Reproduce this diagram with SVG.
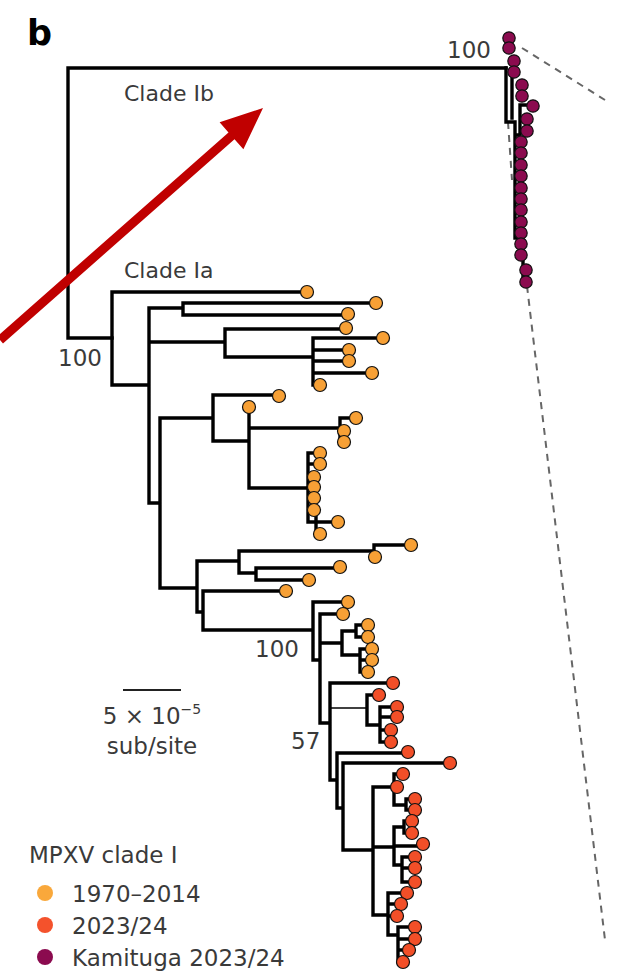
<svg xmlns="http://www.w3.org/2000/svg" width="623" height="975" viewBox="0 0 623 975">
<style>
.t{font-family:"DejaVu Sans","Liberation Sans",Arial,sans-serif;fill:#3a3a3a}
.br{fill:none;stroke:#000;stroke-width:3.4;stroke-linecap:square}
.thin{fill:none;stroke:#000;stroke-width:1.6}
.o{fill:#F7A035;stroke:#111;stroke-width:1.2}
.r{fill:#F24F28;stroke:#111;stroke-width:1.2}
.m{fill:#8B0B4F;stroke:#111;stroke-width:1.2}
.dash{fill:none;stroke:#666;stroke-width:2;stroke-dasharray:7 6}
</style>
<rect width="623" height="975" fill="#fff"/>
<text x="27" y="45" font-family="DejaVu Sans, Liberation Sans, sans-serif" font-size="35" font-weight="bold" fill="#000">b</text>
<g id="connectors">
<path class="dash" d="M522,48 L605,100"/>
<path class="dash" d="M527,286 L605,940"/>
<path class="dash" d="M508,122 L512,180"/>
<path class="br" d="M506,68 H68 V338 H112"/>
<path class="br" d="M307,292 H112 V385 H149 M149,308 V503 M149,308 H183 M183,303 V315 M183,303 H376 M183,315 H348 M149,342 H225 M225,329 V357 M225,329 H346 M225,357 H313 M313,338 V385 M313,338 H383 M313,350 H349 M313,361 H349 M313,373 H372 M313,385 H320 M149,503 H160 M160,418 V588 M160,418 H213 M213,395 V441 M213,395 H279 M213,441 H249 M249,407 V488 M249,428 H340 M340,418 V442 M340,418 H356 M340,431 H344 M340,442 H344 M249,488 H308 M308,453 V522 M308,453 H320 M308,464 H320 M308,522 H316 M316,517 V534 M316,522 H338 M316,534 H320 M160,588 H197 M197,561 V612 M197,561 H239 M197,612 H203 M239,551 V573 M239,551 H374 M374,545 V557 M374,545 H411 M239,573 H256 M256,568 V580 M256,568 H340 M256,580 H309 M203,591 V630 M203,591 H286 M203,630 H313 M313,602 V660 M313,602 H348 M313,660 H320 M320,614 V723 M320,614 H343 M320,643 H342 M342,631 V655 M342,631 H356 M356,625 V637 M356,625 H368 M356,637 H368 M342,655 H360 M360,649 V672 M360,649 H372 M360,660 H372 M360,672 H368 M320,723 H330 M330,683 V780 M330,683 H393 M367,695 V725 M367,695 H379 M367,725 H380 M380,707 V742 M380,707 H397 M380,717 H397 M380,730 H391 M380,742 H391 M330,780 H337 M337,753 V808 M337,753 H408 M337,808 H343 M343,763 V850 M343,763 H450 M343,850 H373 M373,787 V915 M373,787 H394 M394,774 V805 M394,774 H403 M394,805 H406 M406,799 V810 M406,799 H415 M406,810 H415 M373,847 H394 M394,827 V865 M394,827 H404 M404,821 V833 M404,821 H412 M404,833 H412 M394,846 H423 M394,865 H402 M402,857 V882 M402,857 H415 M402,868 H415 M402,882 H415 M373,915 H388 M388,893 V935 M388,893 H407 M388,904 H401 M388,916 H397 M388,935 H398 M398,927 V962 M398,927 H415 M398,939 H415 M398,950 H409 M398,962 H403"/>
<path class="thin" d="M330,708 H367"/>
<path class="br" d="M506,68 V122 H515 V238 H523 V282 M512,72 V118 M515,135 H520 V105 H533"/>
</g>
<g id="tips-1970-2014">
<circle class="o" cx="307" cy="292" r="6.5"/><circle class="o" cx="376" cy="303" r="6.5"/><circle class="o" cx="348" cy="314" r="6.5"/><circle class="o" cx="346" cy="328" r="6.5"/><circle class="o" cx="383" cy="338" r="6.5"/><circle class="o" cx="349" cy="350" r="6.5"/><circle class="o" cx="349" cy="361" r="6.5"/><circle class="o" cx="372" cy="373" r="6.5"/><circle class="o" cx="320" cy="385" r="6.5"/>
<circle class="o" cx="279" cy="396" r="6.5"/><circle class="o" cx="249" cy="407" r="6.5"/><circle class="o" cx="356" cy="418" r="6.5"/><circle class="o" cx="344" cy="431" r="6.5"/><circle class="o" cx="344" cy="442" r="6.5"/>
<circle class="o" cx="320" cy="453" r="6.5"/><circle class="o" cx="320" cy="464" r="6.5"/><circle class="o" cx="314" cy="477" r="6.5"/><circle class="o" cx="314" cy="487" r="6.5"/><circle class="o" cx="314" cy="498" r="6.5"/><circle class="o" cx="314" cy="510" r="6.5"/><circle class="o" cx="338" cy="522" r="6.5"/><circle class="o" cx="320" cy="534" r="6.5"/>
<circle class="o" cx="411" cy="545" r="6.5"/><circle class="o" cx="375" cy="557" r="6.5"/><circle class="o" cx="340" cy="567" r="6.5"/><circle class="o" cx="309" cy="580" r="6.5"/><circle class="o" cx="286" cy="591" r="6.5"/>
<circle class="o" cx="348" cy="602" r="6.5"/><circle class="o" cx="343" cy="614" r="6.5"/><circle class="o" cx="368" cy="625" r="6.5"/><circle class="o" cx="368" cy="637" r="6.5"/><circle class="o" cx="372" cy="649" r="6.5"/><circle class="o" cx="372" cy="660" r="6.5"/><circle class="o" cx="368" cy="672" r="6.5"/>
</g>
<g id="tips-2023-24">
<circle class="r" cx="393" cy="683" r="6.5"/><circle class="r" cx="379" cy="695" r="6.5"/><circle class="r" cx="397" cy="707" r="6.5"/><circle class="r" cx="397" cy="717" r="6.5"/><circle class="r" cx="391" cy="730" r="6.5"/><circle class="r" cx="391" cy="742" r="6.5"/><circle class="r" cx="408" cy="752" r="6.5"/><circle class="r" cx="450" cy="763" r="6.5"/>
<circle class="r" cx="403" cy="774" r="6.5"/><circle class="r" cx="397" cy="787" r="6.5"/><circle class="r" cx="415" cy="799" r="6.5"/><circle class="r" cx="415" cy="810" r="6.5"/><circle class="r" cx="412" cy="821" r="6.5"/><circle class="r" cx="412" cy="833" r="6.5"/><circle class="r" cx="423" cy="844" r="6.5"/><circle class="r" cx="415" cy="857" r="6.5"/><circle class="r" cx="415" cy="868" r="6.5"/><circle class="r" cx="415" cy="882" r="6.5"/><circle class="r" cx="407" cy="893" r="6.5"/><circle class="r" cx="401" cy="904" r="6.5"/><circle class="r" cx="397" cy="916" r="6.5"/><circle class="r" cx="415" cy="927" r="6.5"/><circle class="r" cx="415" cy="939" r="6.5"/><circle class="r" cx="409" cy="950" r="6.5"/><circle class="r" cx="403" cy="962" r="6.5"/>
</g>
<g id="tips-kamituga">
<circle class="m" cx="509" cy="38" r="6.2"/><circle class="m" cx="509" cy="48" r="6.2"/><circle class="m" cx="514" cy="61" r="6.2"/><circle class="m" cx="514" cy="72" r="6.2"/><circle class="m" cx="522" cy="85" r="6.2"/><circle class="m" cx="522" cy="96" r="6.2"/><circle class="m" cx="533" cy="106" r="6.2"/><circle class="m" cx="527" cy="119" r="6.2"/><circle class="m" cx="527" cy="131" r="6.2"/>
<circle class="m" cx="521" cy="142" r="6.2"/><circle class="m" cx="521" cy="153" r="6.2"/><circle class="m" cx="521" cy="165" r="6.2"/><circle class="m" cx="521" cy="176" r="6.2"/><circle class="m" cx="521" cy="188" r="6.2"/><circle class="m" cx="521" cy="199" r="6.2"/><circle class="m" cx="521" cy="210" r="6.2"/><circle class="m" cx="521" cy="222" r="6.2"/><circle class="m" cx="521" cy="233" r="6.2"/><circle class="m" cx="521" cy="244" r="6.2"/><circle class="m" cx="521" cy="255" r="6.2"/><circle class="m" cx="526" cy="270" r="6.2"/><circle class="m" cx="526" cy="282" r="6.2"/>
</g>
<g id="labels">
<text class="t" x="447" y="58" font-size="23">100</text>
<text class="t" x="124" y="101" font-size="22">Clade Ib</text>
<text class="t" x="124" y="278" font-size="22">Clade Ia</text>
<text class="t" x="58" y="366" font-size="23">100</text>
<text class="t" x="255" y="657" font-size="23">100</text>
<text class="t" x="291" y="749" font-size="23">57</text>
</g>
<g id="scale-bar">
<path d="M123,690 H181" stroke="#222" stroke-width="2"/>
<text class="t" x="152" y="724" font-size="23" text-anchor="middle">5 × 10<tspan dy="-10" font-size="14">−5</tspan></text>
<text class="t" x="152" y="754" font-size="23" text-anchor="middle">sub/site</text>
</g>
<g id="legend">
<text class="t" x="29" y="863" font-size="23">MPXV clade I</text>
<circle cx="45" cy="893" r="8" fill="#F9A83B"/>
<circle cx="45" cy="925" r="8" fill="#F4522C"/>
<circle cx="45" cy="957" r="8" fill="#8B0B4F"/>
<text class="t" x="72" y="902" font-size="23">1970–2014</text>
<text class="t" x="72" y="934" font-size="23">2023/24</text>
<text class="t" x="72" y="966" font-size="23">Kamituga 2023/24</text>
</g>
<g id="arrow">
<polygon fill="#C00000" points="-3,336.6 228.5,132.4 219.6,122.3 263,108 243.4,149.3 234.5,139.2 3,343.4"/>
</g>
</svg>
